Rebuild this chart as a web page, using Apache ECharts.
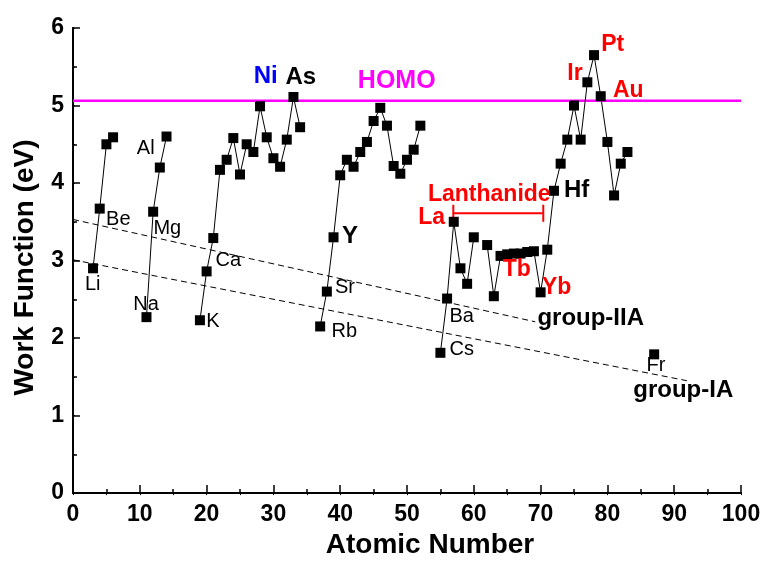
<!DOCTYPE html>
<html>
<head>
<meta charset="utf-8">
<script src="https://cdn.jsdelivr.net/npm/echarts@6/dist/echarts.min.js"></script>
<style>
  html, body { margin: 0; padding: 0; background: #fff; }
  #main { width: 767px; height: 564px; }
</style>
</head>
<body>
<div id="main"></div>
<script>
// work function (eV) by atomic number, one array per period
var period2 = [[3, 2.90], [4, 3.67], [5, 4.50], [6, 4.59]];
var period3 = [[11, 2.27], [12, 3.63], [13, 4.20], [14, 4.60]];
var period4 = [[19, 2.23], [20, 2.86], [21, 3.29], [22, 4.17], [23, 4.30], [24, 4.58],
  [25, 4.11], [26, 4.50], [27, 4.40], [28, 4.99], [29, 4.59], [30, 4.32],
  [31, 4.21], [32, 4.56], [33, 5.11], [34, 4.72]];
var period5 = [[37, 2.15], [38, 2.60], [39, 3.30], [40, 4.10], [41, 4.30], [42, 4.21],
  [43, 4.40], [44, 4.53], [45, 4.80], [46, 4.97], [47, 4.74], [48, 4.22],
  [49, 4.12], [50, 4.30], [51, 4.43], [52, 4.74]];
// Pm (61) missing, so period 6 is split in two
var period6a = [[55, 1.81], [56, 2.51], [57, 3.50], [58, 2.90], [59, 2.70], [60, 3.30]];
var period6b = [[62, 3.20], [63, 2.54], [64, 3.06], [65, 3.08], [66, 3.09], [67, 3.09],
  [68, 3.11], [69, 3.12], [70, 2.59], [71, 3.14], [72, 3.90], [73, 4.25],
  [74, 4.56], [75, 5.00], [76, 4.56], [77, 5.30], [78, 5.65], [79, 5.12],
  [80, 4.53], [81, 3.84], [82, 4.25], [83, 4.40]];
var period7 = [[87, 1.79]];

var homoLevel = 5.06;
var groupIA = [[0, 3.01], [91.9, 1.45]];
var groupIIA = [[0, 3.53], [69.2, 2.21]];
var lanthRange = [56.93, 70.4];
var lanthLevel = 3.61;

// annotations: text, atomic number, eV, style
var notes = [
  ['Li', 2.95, 2.69, 'plain'], ['Be', 6.78, 3.53, 'plain'],
  ['Na', 10.93, 2.43, 'plain'], ['Mg', 14.12, 3.42, 'plain'], ['Al', 10.88, 4.44, 'plain'],
  ['K', 20.96, 2.21, 'plain'], ['Ca', 23.25, 3.0, 'plain'],
  ['Ni', 28.85, 5.37, 'blue'], ['As', 34.09, 5.36, 'bold'],
  ['HOMO', 48.46, 5.31, 'magenta'],
  ['Rb', 40.61, 2.09, 'plain'], ['Sr', 40.72, 2.65, 'plain'], ['Y', 41.47, 3.31, 'bold'],
  ['Cs', 58.19, 1.85, 'plain'], ['Ba', 58.19, 2.28, 'plain'],
  ['La', 53.7, 3.55, 'red'], ['Lanthanide', 62.32, 3.85, 'red'],
  ['Tb', 66.42, 2.88, 'red'], ['Yb', 72.4, 2.65, 'red'], ['Hf', 75.4, 3.91, 'bold'],
  ['Ir', 75.15, 5.41, 'red'], ['Pt', 80.8, 5.78, 'red'], ['Au', 83.13, 5.19, 'red'],
  ['group-IIA', 77.5, 2.25, 'bold'], ['Fr', 87.28, 1.65, 'plain'], ['group-IA', 91.36, 1.32, 'bold']
];

var noteStyles = {
  plain: { color: '#000000', fontWeight: 'normal', fontSize: 20 },
  bold: { color: '#000000', fontWeight: 'bold', fontSize: 24 },
  red: { color: '#ff0000', fontWeight: 'bold', fontSize: 23 },
  blue: { color: '#0000ff', fontWeight: 'bold', fontSize: 24 },
  magenta: { color: '#ff00ff', fontWeight: 'bold', fontSize: 25 }
};

var font = 'Liberation Sans, Arial, Helvetica, sans-serif';
var chart = echarts.init(document.getElementById('main'));

function periodSeries(data) {
  return {
    type: 'line',
    data: data,
    symbol: 'rect',
    symbolSize: 10,
    itemStyle: { color: '#000' },
    lineStyle: { color: '#000', width: 1 },
    z: 5,
    animation: false
  };
}

function plainLine(data, color, width, type) {
  return {
    type: 'line',
    data: data,
    symbol: 'none',
    lineStyle: { color: color, width: width, type: type },
    z: 3,
    silent: true,
    animation: false
  };
}

var noteData = notes.map(function (n) {
  var s = noteStyles[n[3]];
  return {
    value: [n[1], n[2]],
    name: n[0],
    label: {
      color: s.color, fontWeight: s.fontWeight, fontSize: s.fontSize,
      textBorderWidth: 0, textBorderColor: 'transparent', opacity: 1
    }
  };
});

var option = {
  backgroundColor: '#fff',
  textStyle: { fontFamily: font },
  grid: { left: 73, right: 26, top: 28, bottom: 70 },
  xAxis: [{
    type: 'value', min: 0, max: 100, interval: 10,
    position: 'bottom',
    name: 'Atomic Number',
    nameLocation: 'middle',
    nameGap: 33,
    nameTextStyle: { fontSize: 28, fontWeight: 'bold', color: '#000', fontFamily: font, padding: [0, 0, 0, 46] },
    axisLine: { lineStyle: { color: '#000', width: 2 } },
    axisTick: { inside: true, length: 8, lineStyle: { color: '#000', width: 1.5 } },
    minorTick: { show: true, splitNumber: 2, length: 4, lineStyle: { color: '#000', width: 1.5 } },
    splitLine: { show: false },
    axisLabel: { fontSize: 23, fontWeight: 'bold', color: '#000', margin: 10, fontFamily: font }
  }, {
    type: 'value', min: 0, max: 100, interval: 5,
    position: 'top',
    axisLine: { show: true, lineStyle: { color: '#000', width: 2 } },
    axisTick: { show: true, inside: true, length: 2, lineStyle: { color: '#000' } },
    splitLine: { show: false },
    axisLabel: { show: false }
  }],
  yAxis: [{
    type: 'value', min: 0, max: 6, interval: 1,
    position: 'left',
    name: 'Work Function (eV)',
    nameLocation: 'middle',
    nameGap: 34,
    nameTextStyle: { fontSize: 28, fontWeight: 'bold', color: '#000', fontFamily: font, padding: [0, 14, 0, 0] },
    axisLine: { show: true, lineStyle: { color: '#000', width: 2 } },
    axisTick: { inside: true, length: 7, lineStyle: { color: '#000', width: 1.5 } },
    minorTick: { show: true, splitNumber: 2, length: 4, lineStyle: { color: '#000', width: 1.5 } },
    splitLine: { show: false },
    axisLabel: { fontSize: 23, fontWeight: 'bold', color: '#000', margin: 9, fontFamily: font }
  }, {
    type: 'value', min: 0, max: 6, interval: 0.5,
    position: 'right',
    axisLine: { show: true, lineStyle: { color: '#000', width: 2 } },
    axisTick: { show: true, inside: false, length: 2, lineStyle: { color: '#000' } },
    splitLine: { show: false },
    axisLabel: { show: false }
  }],
  series: [
    periodSeries(period2),
    periodSeries(period3),
    periodSeries(period4),
    periodSeries(period5),
    periodSeries(period6a),
    periodSeries(period6b),
    periodSeries(period7),
    plainLine(groupIA, '#000', 1, [6, 4]),
    plainLine(groupIIA, '#000', 1, [6, 4]),
    plainLine([[0, homoLevel], [100, homoLevel]], '#ff00ff', 2.5, 'solid'),
    plainLine([[lanthRange[0], lanthLevel], [lanthRange[1], lanthLevel]], '#ff0000', 2, 'solid'),
    plainLine([[lanthRange[0], lanthLevel - 0.11], [lanthRange[0], lanthLevel + 0.11]], '#ff0000', 2, 'solid'),
    plainLine([[lanthRange[1], lanthLevel - 0.11], [lanthRange[1], lanthLevel + 0.11]], '#ff0000', 2, 'solid'),
    {
      type: 'scatter',
      data: noteData,
      symbolSize: 0,
      silent: true,
      animation: false,
      z: 10,
      itemStyle: { color: '#000', opacity: 1 },
      label: {
        show: true,
        position: 'inside',
        fontFamily: font,
        formatter: function (p) { return p.name; }
      }
    }
  ]
};

chart.setOption(option);
</script>
</body>
</html>
